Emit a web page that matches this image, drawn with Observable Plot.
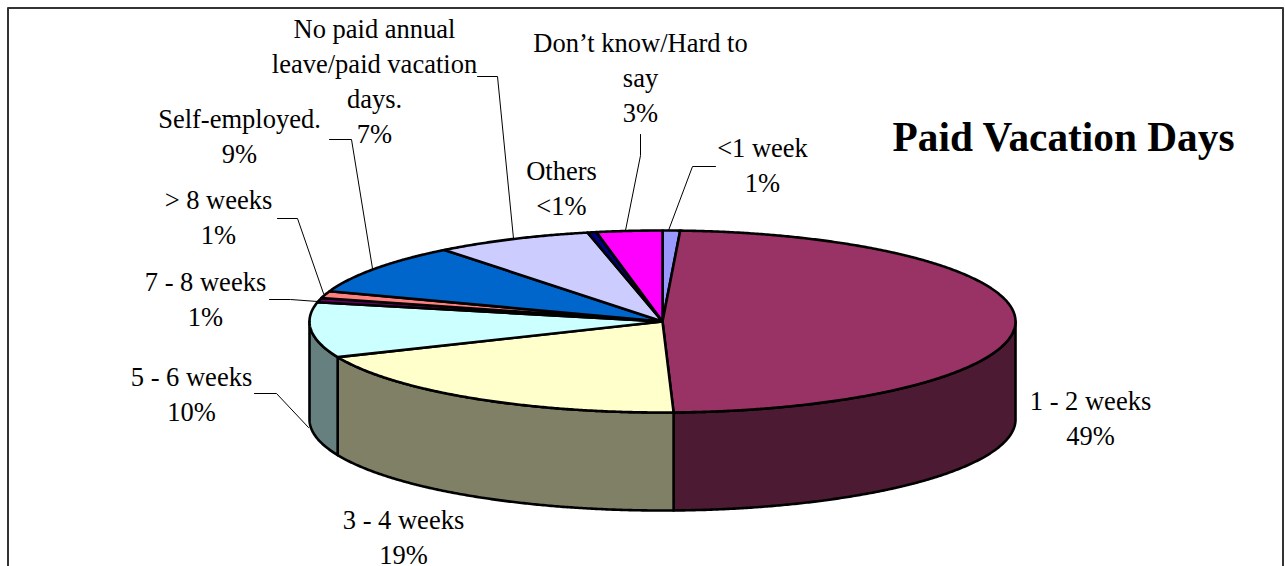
<!DOCTYPE html>
<html>
<head>
<meta charset="utf-8">
<style>html,body{margin:0;padding:0;background:#fff}svg{display:block}</style>
<script src="https://cdn.jsdelivr.net/npm/d3@7"></script>
<script src="https://cdn.jsdelivr.net/npm/@observablehq/plot@0.6"></script>
</head>
<body>
<script>
const categories = ["<1 week","1 - 2 weeks","3 - 4 weeks","5 - 6 weeks","7 - 8 weeks","> 8 weeks","Self-employed.","No paid annual leave/paid vacation days.","Others","Don't know/Hard to say"];
const values = [0.8, 48.7, 19.1, 9.8, 0.75, 1.25, 9.0, 7.2, 0.4, 3.0];
const topColors = ["#9999ff","#993366","#ffffcc","#ccffff","#660066","#ff8080","#0066cc","#ccccff","#000080","#ff00ff"];
const sideColors = ["#4d4d80","#4d1a33","#808066","#668080","#330033","#804040","#003366","#666680","#000040","#800080"];

const labelTexts = ["<1 week\n1%","1 - 2 weeks\n49%","3 - 4 weeks\n19%","5 - 6 weeks\n10%","7 - 8 weeks\n1%","> 8 weeks\n1%","Self-employed.\n9%","No paid annual\nleave/paid vacation\ndays.\n7%","Others\n<1%","Don\u2019t know/Hard to\nsay\n3%"];
const labelX = [762,1090,403,191,205,218,239,374,561,640];
const labelY = [163,416,535,392,297,215,134,79,186,75];

const leaders = [
  [[715,166],[692,166],[668,230]],
  [[640,134],[640,155],[625,230]],
  [[477,76],[497,76],[513,238]],
  [[329,139],[351,139],[372,268]],
  [[277,218],[297,218],[323,293]],
  [[269,299],[290,299],[317,301]],
  [[254,393],[276,393],[308,427]]
];
const frame = [[7.5,566],[7.5,7.5],[1282.5,7.5],[1282.5,566]];

const cx = 662, cy = 321, rx = 353, ry = 91, depth = 98;
const total = d3.sum(values);
const cum = d3.cumsum(values);
const angle = p => p / total * 2 * Math.PI;
const pt = (t, dy = 0) => ({x: cx + rx * Math.sin(t), y: cy - ry * Math.cos(t) + dy});
function arc(a, b, dy = 0) {
  const n = Math.max(2, Math.ceil(Math.abs(b - a) / 0.006));
  return d3.range(n + 1).map(i => pt(a + (b - a) * i / n, dy));
}
const slices = categories.map((c, i) => {
  const a = angle(i ? cum[i - 1] : 0), b = angle(cum[i]);
  return {c, a, b, i};
});
const topPts = slices.flatMap(s => [{x: cx, y: cy}, ...arc(s.a, s.b), {x: cx, y: cy}].map(p => ({...p, category: s.c})));
const walls = slices.flatMap(s => {
  const a = Math.max(s.a, Math.PI / 2), b = Math.min(s.b, 3 * Math.PI / 2);
  if (b <= a) return [];
  const pts = [...arc(a, b), ...arc(b, a, depth)];
  pts.push(pts[0]);
  return [{fill: sideColors[s.i], pts}];
});

const serif = "Liberation Serif, Times New Roman, serif";
const plot = Plot.plot({
  width: 1285, height: 566, margin: 0,
  x: {type: "identity", axis: null},
  y: {type: "identity", axis: null},
  color: {domain: categories, range: topColors},
  marks: [
    Plot.line(frame, {x: d => d[0], y: d => d[1], stroke: "#333", strokeWidth: 2}),
    ...leaders.map(l => Plot.line(l, {x: d => d[0], y: d => d[1], stroke: "#000", strokeWidth: 1})),
    ...walls.map(w => Plot.line(w.pts, {x: "x", y: "y", fill: w.fill, stroke: "#000", strokeWidth: 2.6, strokeLinejoin: "round"})),
    Plot.line(topPts, {x: "x", y: "y", z: "category", fill: "category", stroke: "#000", strokeWidth: 2.6, strokeLinejoin: "round"}),
    Plot.text(labelTexts, {x: (d, i) => labelX[i], y: (d, i) => labelY[i], text: d => d, fontFamily: serif, fontSize: 26.5, lineHeight: 1.32, fill: "#000", textAnchor: "middle"}),
    Plot.text(["Paid Vacation Days"], {x: 1063, y: 137, text: d => d, fontFamily: serif, fontSize: 41.3, fontWeight: "bold", fill: "#000", textAnchor: "middle"})
  ]
});
document.body.appendChild(plot);
</script>
</body>
</html>
